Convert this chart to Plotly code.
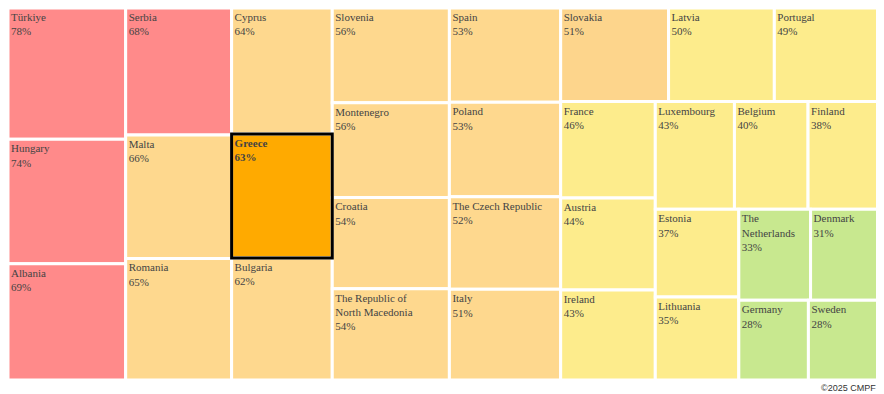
import plotly.graph_objects as go

countries = ["Türkiye", "Hungary", "Albania", "Serbia", "Malta", "Romania", "Cyprus", "Greece",
             "Bulgaria", "Slovenia", "Montenegro", "Croatia", "The Republic of<br>North Macedonia",
             "Spain", "Poland", "The Czech Republic", "Italy", "Slovakia", "Latvia", "Portugal",
             "France", "Austria", "Ireland", "Luxembourg", "Belgium", "Finland", "Estonia",
             "Lithuania", "The<br>Netherlands", "Denmark", "Germany", "Sweden"]
values = [78, 74, 69, 68, 66, 65, 64, 63, 62, 56, 56, 54, 54, 53, 53, 52, 51, 51, 50, 49,
          46, 44, 43, 43, 40, 38, 37, 35, 33, 31, 28, 28]
highlight = "Greece"

def band_color(v, name):
    if name == highlight:
        return "#FFAA00"
    if name == "Slovakia":
        return "#FDD58C"
    if v >= 67:
        return "#FF8A8A"
    if v > 50:
        return "#FED88E"
    if v > 33:
        return "#FDEC8C"
    return "#C8E88F"

colors = [band_color(v, c) for v, c in zip(values, countries)]
templates = [("<b>%{label}<br>%{value}%</b>" if c == highlight else "%{label}<br>%{value}%")
             for c in countries]

common = dict(
    labels=countries,
    parents=[""] * len(countries),
    values=values,
    sort=True,
    tiling=dict(packing="squarify", squarifyratio=1, pad=0),
    pathbar=dict(visible=False),
)

fig = go.Figure(go.Treemap(
    **common,
    marker=dict(colors=colors, line=dict(color="#FFFFFF", width=3), pad=dict(t=0, l=0, r=0, b=0)),
    texttemplate=templates,
    textposition="top left",
    textfont=dict(family="Liberation Serif", size=11, color="#444444"),
    hoverinfo="label+value",
))

# highlight outline drawn on top
fig.add_trace(go.Treemap(
    **common,
    marker=dict(colors=["rgba(0,0,0,0)"] * len(countries),
                line=dict(color=["#000000" if c == highlight else "rgba(0,0,0,0)" for c in countries],
                          width=[3 if c == highlight else 0 for c in countries]),
                pad=dict(t=0, l=0, r=0, b=0)),
    textinfo="none",
    hoverinfo="skip",
))

fig.add_annotation(text="©2025 CMPF", xref="paper", yref="paper", x=1, y=0,
                   xanchor="right", yanchor="top", yshift=-1, showarrow=False,
                   font=dict(family="Liberation Sans", size=9, color="#333333"))

fig.update_layout(width=876, height=386, margin=dict(l=0, r=6, t=0, b=14),
                  paper_bgcolor="white", plot_bgcolor="white")
fig.write_html("out.html")
